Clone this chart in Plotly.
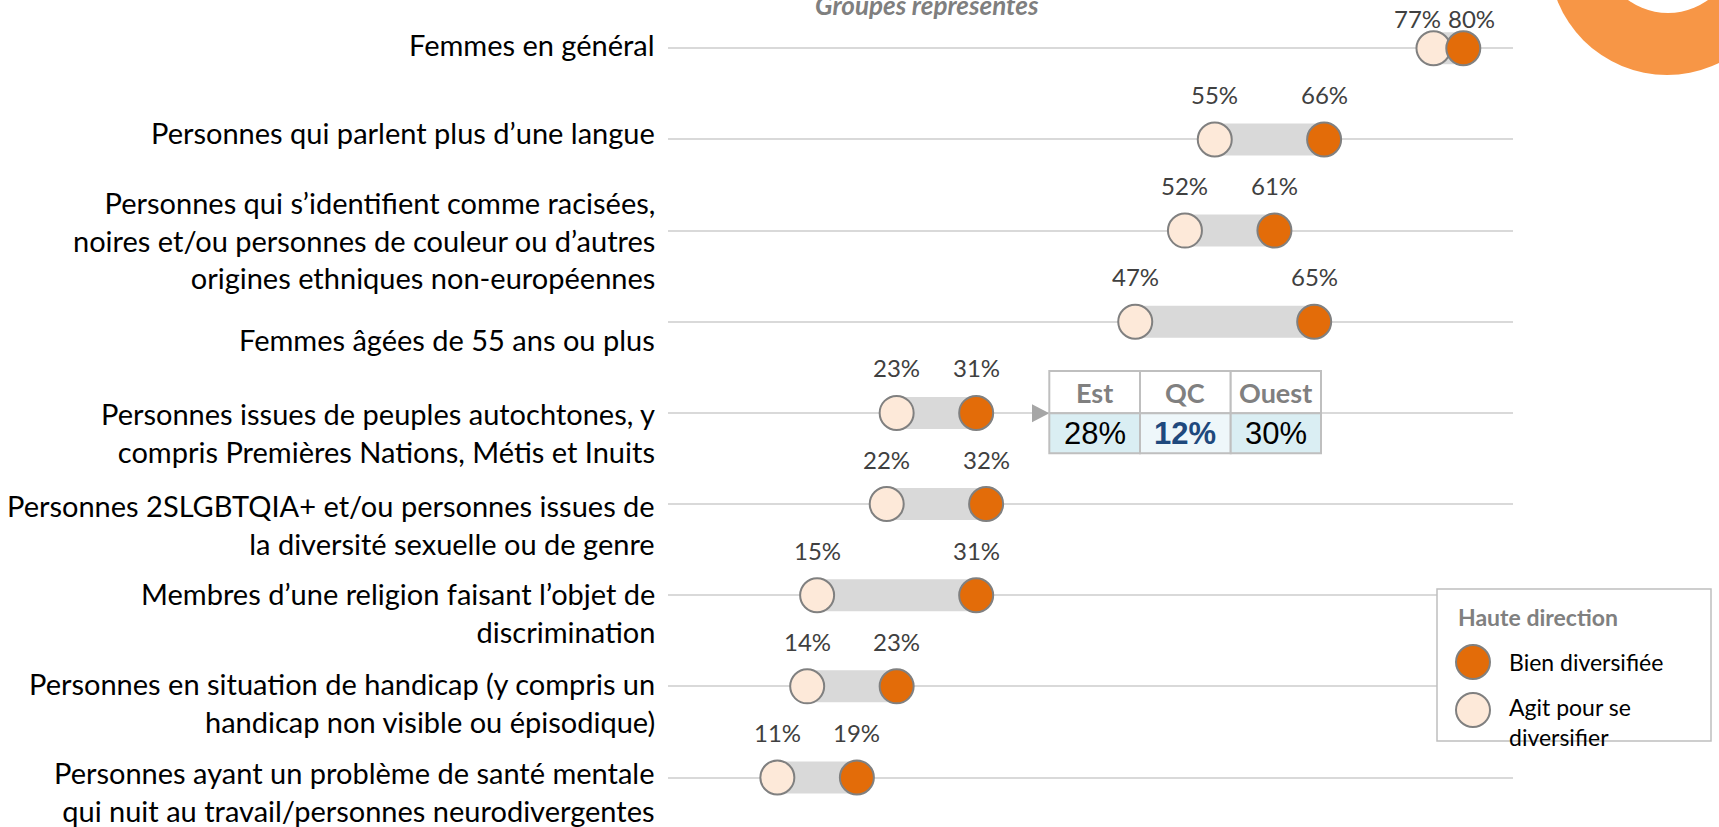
import plotly.graph_objects as go

# ---------------- data ----------------
categories = [
    "Femmes en général",
    "Personnes qui parlent plus d’une langue",
    "Personnes qui s’identifient comme racisées,<br>noires et/ou personnes de couleur ou d’autres<br>origines ethniques non-européennes",
    "Femmes âgées de 55 ans ou plus",
    "Personnes issues de peuples autochtones, y<br>compris Premières Nations, Métis et Inuits",
    "Personnes 2SLGBTQIA+ et/ou personnes issues de<br>la diversité sexuelle ou de genre",
    "Membres d’une religion faisant l’objet de<br>discrimination",
    "Personnes en situation de handicap (y compris un<br>handicap non visible ou épisodique)",
    "Personnes ayant un problème de santé mentale<br>qui nuit au travail/personnes neurodivergentes",
]
agit_values = [77, 55, 52, 47, 23, 22, 15, 14, 11]   # "Agit pour se diversifier"
bien_values = [80, 66, 61, 65, 31, 32, 31, 23, 19]   # "Bien diversifiée"
series_names = ["Bien diversifiée", "Agit pour se<br>diversifier"]
legend_title = "Haute direction"
chart_title = "Groupes représentés"
table_regions = ["Est", "QC", "Ouest"]
table_values = [28, 12, 30]
table_row_index = 4  # row pointed by the arrow (autochtones)

# ---------------- layout constants ----------------
W, H = 1719, 827
ORANGE = "#E36C09"
LIGHT = "#FDE9D9"
BAND = "#D9D9D9"
OUTLINE = "#808080"
FONT = "Lato"

X0_PX, X1_PX = 668, 1513          # pixel extent of the 0..85 % axis
X_MAX = 85
ROW0_PX, ROW_STEP = 48.3, 91.15   # pixel position of first row and spacing

def px_x(x):
    return x / W

def px_y(y):
    return 1 - y / H

def data_x(px):
    return (px - X0_PX) / (X1_PX - X0_PX) * X_MAX

n = len(categories)
rows = list(range(n))

fig = go.Figure()

# gray connecting bands
bx, by = [], []
for i in rows:
    bx += [agit_values[i], bien_values[i], None]
    by += [i, i, None]
fig.add_trace(go.Scatter(x=bx, y=by, mode="lines",
                         line=dict(color=BAND, width=32),
                         hoverinfo="skip", showlegend=False))

fig.add_trace(go.Scatter(x=agit_values, y=rows, mode="markers",
                         name="Agit pour se diversifier",
                         marker=dict(size=34, color=LIGHT,
                                     line=dict(color=OUTLINE, width=2)),
                         showlegend=False))
fig.add_trace(go.Scatter(x=bien_values, y=rows, mode="markers",
                         name="Bien diversifiée",
                         marker=dict(size=34, color=ORANGE,
                                     line=dict(color=OUTLINE, width=2)),
                         showlegend=False))

annotations = []

def note(x, y, text, size, color, family=FONT, xanchor="center",
         yanchor="middle", align="center", **kw):
    d = dict(x=x, y=y, xref="paper", yref="paper", text=text,
             showarrow=False, xanchor=xanchor, yanchor=yanchor, align=align,
             font=dict(family=family, size=size, color=color))
    d.update(kw)
    annotations.append(d)

# category labels
label_offsets = [-4, -7, 9, 18, 20, 20, 17, 16, 14]  # px, positive = down
for i, cat in enumerate(categories):
    annotations.append(dict(
        x=px_x(657), xref="paper", xanchor="right",
        y=i, yref="y", yanchor="middle", yshift=-label_offsets[i],
        text=cat, showarrow=False, align="right",
        font=dict(family=FONT, size=29, color="#000000")))

# value labels
for i in rows:
    a, b = agit_values[i], bien_values[i]
    ys = 30 if i == 0 else 45
    close = abs(b - a) < 5
    annotations.append(dict(x=a, y=i, xref="x", yref="y", text=f"{a}%",
                            showarrow=False, yshift=ys, xanchor="center",
                            yanchor="middle",
                            xshift=-16 if close else 0,
                            font=dict(family=FONT, size=24, color="#404040")))
    annotations.append(dict(x=b, y=i, xref="x", yref="y", text=f"{b}%",
                            showarrow=False, yshift=ys, xanchor="center",
                            yanchor="middle",
                            xshift=8 if close else 0,
                            font=dict(family=FONT, size=24, color="#404040")))

shapes = []

# decorative orange ring (top right)
shapes.append(dict(type="circle", xref="paper", yref="paper", layer="above",
                   x0=px_x(1667 - 118), x1=px_x(1667 + 118),
                   y0=px_y(-43 + 118), y1=px_y(-43 - 118),
                   fillcolor="#F79646", line=dict(width=0)))
shapes.append(dict(type="circle", xref="paper", yref="paper", layer="above",
                   x0=px_x(1668 - 68), x1=px_x(1668 + 68),
                   y0=px_y(-55 + 68), y1=px_y(-55 - 68),
                   fillcolor="#FFFFFF", line=dict(width=0)))

# title (cut at top)
note(px_x(927), 1, f"<b><i>{chart_title}</i></b>", 26, "#7F7F7F", yshift=-5)

# arrow from autochtones row to table
tbl_x = [1049.3, 1140, 1230.7, 1321]
tbl_y = [371, 413.3, 453.3]
shapes.append(dict(type="line", xref="x", yref="y", layer="below",
                   x0=bien_values[table_row_index], x1=data_x(1034),
                   y0=table_row_index, y1=table_row_index,
                   line=dict(color="#A6A6A6", width=2, dash="dot")))
ty = tbl_y[1]
shapes.append(dict(type="path", xref="paper", yref="paper", layer="above",
                   path=f"M {px_x(1032)},{px_y(ty - 9)} L {px_x(1049.3)},{px_y(ty)} "
                        f"L {px_x(1032)},{px_y(ty + 9)} Z",
                   fillcolor="#A6A6A6", line=dict(width=0)))

# table
data_fills = ["#DAEEF3", "#EEF7FA", "#DAEEF3"]
for j in range(3):
    shapes.append(dict(type="rect", xref="paper", yref="paper", layer="above",
                       x0=px_x(tbl_x[j]), x1=px_x(tbl_x[j + 1]),
                       y0=px_y(tbl_y[0]), y1=px_y(tbl_y[1]),
                       fillcolor="#FFFFFF", line=dict(color="#BFBFBF", width=2)))
    shapes.append(dict(type="rect", xref="paper", yref="paper", layer="above",
                       x0=px_x(tbl_x[j]), x1=px_x(tbl_x[j + 1]),
                       y0=px_y(tbl_y[1]), y1=px_y(tbl_y[2]),
                       fillcolor=data_fills[j], line=dict(color="#BFBFBF", width=2)))
    cx = (tbl_x[j] + tbl_x[j + 1]) / 2
    note(px_x(cx), px_y((tbl_y[0] + tbl_y[1]) / 2),
         f"<b>{table_regions[j]}</b>", 27, "#808080")
    is_qc = table_regions[j] == "QC"
    val = f"<b>{table_values[j]}%</b>" if is_qc else f"{table_values[j]}%"
    note(px_x(cx), px_y((tbl_y[1] + tbl_y[2]) / 2), val, 31,
         "#1F497D" if is_qc else "#000000", family="Liberation Sans")

# custom legend
shapes.append(dict(type="rect", xref="paper", yref="paper", layer="above",
                   x0=px_x(1437), x1=px_x(1711), y0=px_y(589), y1=px_y(741),
                   fillcolor="#FFFFFF", line=dict(color="#BFBFBF", width=1.5)))
note(px_x(1456), px_y(617), f"<b>{legend_title}</b>", 23, "#808080",
     xanchor="left")
for col, cyp in [(ORANGE, 662), (LIGHT, 710)]:
    shapes.append(dict(type="circle", xref="paper", yref="paper", layer="above",
                       x0=px_x(1473 - 17), x1=px_x(1473 + 17),
                       y0=px_y(cyp + 17), y1=px_y(cyp - 17),
                       fillcolor=col, line=dict(color=OUTLINE, width=2)))
note(px_x(1507), px_y(662), series_names[0], 23, "#000000", xanchor="left")
note(px_x(1507), px_y(722), series_names[1], 23, "#000000", xanchor="left",
     align="left")

fig.update_layout(
    width=W, height=H,
    margin=dict(l=0, r=0, t=0, b=0),
    paper_bgcolor="white", plot_bgcolor="white",
    showlegend=False,
    xaxis=dict(domain=[px_x(X0_PX), px_x(X1_PX)], range=[0, X_MAX],
               showgrid=False, zeroline=False, showticklabels=False,
               showline=False, fixedrange=True),
    yaxis=dict(domain=[0, 1],
               range=[(H - ROW0_PX) / ROW_STEP, -ROW0_PX / ROW_STEP],
               tickvals=rows, showticklabels=False, showgrid=True,
               gridcolor="#D9D9D9", gridwidth=2, zeroline=False,
               showline=False, fixedrange=True),
    shapes=shapes,
    annotations=annotations,
)

fig.write_html("out.html",
               config={"displayModeBar": False},
               post_script="document.body.style.margin='0';document.body.style.overflow='hidden';")
